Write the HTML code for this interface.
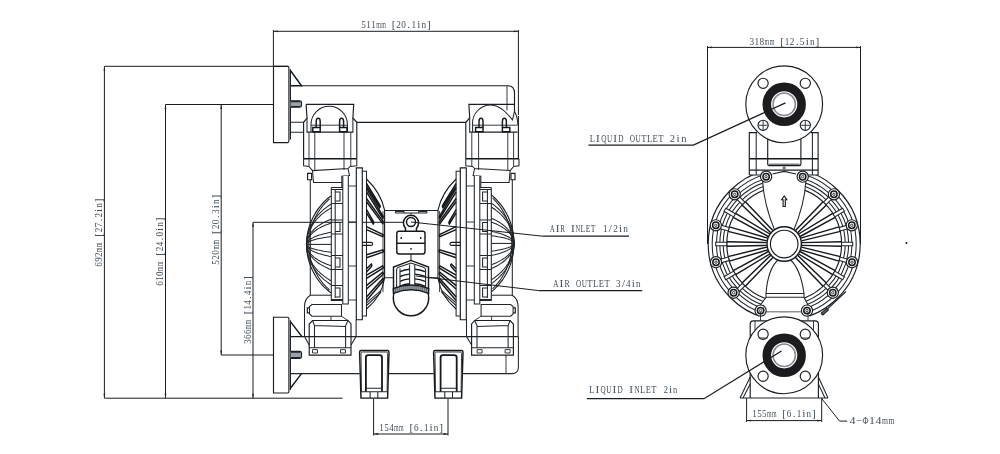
<!DOCTYPE html>
<html><head><meta charset="utf-8"><title>Pump dimensions</title>
<style>
html,body{margin:0;padding:0;background:#fff;}
body{width:1000px;height:454px;overflow:hidden;font-family:"Liberation Serif",serif;}
svg{display:block;will-change:transform}
.l{stroke:#1a1e22;stroke-width:1.15;fill:none}
.t{stroke:#2c333a;stroke-width:.95;fill:none}
.m{stroke:#20252a;stroke-width:1.05;fill:none}
.k{stroke:#15181b;stroke-width:1.45;fill:none}
.d{stroke:#1a1d20;stroke-width:1;fill:none}
.w{fill:#fff}
text{font-family:"Liberation Serif",serif;fill:#434f59;font-size:11.3px}
</style></head><body>
<svg width="1000" height="454" viewBox="0 0 1000 454">
<rect width="1000" height="454" fill="#fff"/>

<path class="d" d="M273.4 30L273.4 66"/>
<path class="d" d="M518.4 30L518.4 115"/>
<path class="d" d="M273.4 31.3L518.4 31.3"/>
<path d="M273.4 31.3L277.9 30.400000000000002L277.9 32.2Z" fill="#1e2328"/>
<path d="M518.4 31.3L513.9 30.400000000000002L513.9 32.2Z" fill="#1e2328"/>
<text y="28.1" font-size="11.3" xml:space="preserve"><tspan x="361.20" textLength="4.62" lengthAdjust="spacingAndGlyphs">5</tspan><tspan x="366.22" textLength="4.62" lengthAdjust="spacingAndGlyphs">1</tspan><tspan x="371.24" textLength="4.62" lengthAdjust="spacingAndGlyphs">1</tspan><tspan x="376.27" textLength="4.62" lengthAdjust="spacingAndGlyphs">m</tspan><tspan x="381.29" textLength="4.62" lengthAdjust="spacingAndGlyphs">m</tspan><tspan x="386.11"> </tspan><tspan x="391.76">[</tspan><tspan x="396.35" textLength="4.62" lengthAdjust="spacingAndGlyphs">2</tspan><tspan x="401.37" textLength="4.62" lengthAdjust="spacingAndGlyphs">0</tspan><tspan x="407.29">.</tspan><tspan x="411.42" textLength="4.62" lengthAdjust="spacingAndGlyphs">1</tspan><tspan x="417.18">i</tspan><tspan x="421.46" textLength="4.62" lengthAdjust="spacingAndGlyphs">n</tspan><tspan x="426.91">]</tspan></text>
<path class="d" d="M104.4 66.3L288 66.3"/>
<path class="d" d="M104.4 66.3L104.4 398.2"/>
<path class="d" d="M104.4 398.2L342.6 398.2"/>
<path d="M104.4 66.3L103.5 70.8L105.30000000000001 70.8Z" fill="#1e2328"/>
<path d="M104.4 398.2L103.5 393.7L105.30000000000001 393.7Z" fill="#1e2328"/>
<text y="267" font-size="11.3" transform="rotate(-90 102.2 267)" xml:space="preserve"><tspan x="102.40" textLength="4.53" lengthAdjust="spacingAndGlyphs">6</tspan><tspan x="107.33" textLength="4.53" lengthAdjust="spacingAndGlyphs">9</tspan><tspan x="112.25" textLength="4.53" lengthAdjust="spacingAndGlyphs">2</tspan><tspan x="117.18" textLength="4.53" lengthAdjust="spacingAndGlyphs">m</tspan><tspan x="122.11" textLength="4.53" lengthAdjust="spacingAndGlyphs">m</tspan><tspan x="126.84"> </tspan><tspan x="132.35">[</tspan><tspan x="136.90" textLength="4.53" lengthAdjust="spacingAndGlyphs">2</tspan><tspan x="141.83" textLength="4.53" lengthAdjust="spacingAndGlyphs">7</tspan><tspan x="147.61">.</tspan><tspan x="151.68" textLength="4.53" lengthAdjust="spacingAndGlyphs">2</tspan><tspan x="157.31">i</tspan><tspan x="161.54" textLength="4.53" lengthAdjust="spacingAndGlyphs">n</tspan><tspan x="166.85">]</tspan></text>
<path class="d" d="M165.5 104.5L273.4 104.5"/>
<path class="d" d="M165.5 104.5L165.5 398.2"/>
<path d="M165.5 104.5L164.6 109.0L166.4 109.0Z" fill="#1e2328"/>
<path d="M165.5 398.2L164.6 393.7L166.4 393.7Z" fill="#1e2328"/>
<text y="286" font-size="11.3" transform="rotate(-90 163.2 286)" xml:space="preserve"><tspan x="163.40" textLength="4.53" lengthAdjust="spacingAndGlyphs">6</tspan><tspan x="168.33" textLength="4.53" lengthAdjust="spacingAndGlyphs">1</tspan><tspan x="173.25" textLength="4.53" lengthAdjust="spacingAndGlyphs">0</tspan><tspan x="178.18" textLength="4.53" lengthAdjust="spacingAndGlyphs">m</tspan><tspan x="183.11" textLength="4.53" lengthAdjust="spacingAndGlyphs">m</tspan><tspan x="187.84"> </tspan><tspan x="193.35">[</tspan><tspan x="197.90" textLength="4.53" lengthAdjust="spacingAndGlyphs">2</tspan><tspan x="202.83" textLength="4.53" lengthAdjust="spacingAndGlyphs">4</tspan><tspan x="208.61">.</tspan><tspan x="212.68" textLength="4.53" lengthAdjust="spacingAndGlyphs">0</tspan><tspan x="218.31">i</tspan><tspan x="222.54" textLength="4.53" lengthAdjust="spacingAndGlyphs">n</tspan><tspan x="227.85">]</tspan></text>
<path class="d" d="M221.2 104.5L221.2 355"/>
<path class="d" d="M221.2 355L273.4 355"/>
<path d="M221.2 104.5L220.29999999999998 109.0L222.1 109.0Z" fill="#1e2328"/>
<path d="M221.2 355L220.29999999999998 350.5L222.1 350.5Z" fill="#1e2328"/>
<text y="265" font-size="11.3" transform="rotate(-90 218.8 265)" xml:space="preserve"><tspan x="219.00" textLength="4.67" lengthAdjust="spacingAndGlyphs">5</tspan><tspan x="224.07" textLength="4.67" lengthAdjust="spacingAndGlyphs">2</tspan><tspan x="229.15" textLength="4.67" lengthAdjust="spacingAndGlyphs">0</tspan><tspan x="234.22" textLength="4.67" lengthAdjust="spacingAndGlyphs">m</tspan><tspan x="239.29" textLength="4.67" lengthAdjust="spacingAndGlyphs">m</tspan><tspan x="244.16"> </tspan><tspan x="249.88">[</tspan><tspan x="254.50" textLength="4.67" lengthAdjust="spacingAndGlyphs">2</tspan><tspan x="259.57" textLength="4.67" lengthAdjust="spacingAndGlyphs">0</tspan><tspan x="265.57">.</tspan><tspan x="269.72" textLength="4.67" lengthAdjust="spacingAndGlyphs">3</tspan><tspan x="275.55">i</tspan><tspan x="279.86" textLength="4.67" lengthAdjust="spacingAndGlyphs">n</tspan><tspan x="285.38">]</tspan></text>
<path class="d" d="M253 222.3L404 222.3"/>
<path class="d" d="M253 222.3L253 398.2"/>
<path d="M253 222.3L252.1 226.8L253.9 226.8Z" fill="#1e2328"/>
<path d="M253 398.2L252.1 393.7L253.9 393.7Z" fill="#1e2328"/>
<text y="344" font-size="11.3" transform="rotate(-90 250.6 344)" xml:space="preserve"><tspan x="250.80" textLength="4.49" lengthAdjust="spacingAndGlyphs">3</tspan><tspan x="255.68" textLength="4.49" lengthAdjust="spacingAndGlyphs">6</tspan><tspan x="260.57" textLength="4.49" lengthAdjust="spacingAndGlyphs">6</tspan><tspan x="265.45" textLength="4.49" lengthAdjust="spacingAndGlyphs">m</tspan><tspan x="270.34" textLength="4.49" lengthAdjust="spacingAndGlyphs">m</tspan><tspan x="275.03"> </tspan><tspan x="280.48">[</tspan><tspan x="285.00" textLength="4.49" lengthAdjust="spacingAndGlyphs">1</tspan><tspan x="289.88" textLength="4.49" lengthAdjust="spacingAndGlyphs">4</tspan><tspan x="295.60">.</tspan><tspan x="299.65" textLength="4.49" lengthAdjust="spacingAndGlyphs">4</tspan><tspan x="305.22">i</tspan><tspan x="309.42" textLength="4.49" lengthAdjust="spacingAndGlyphs">n</tspan><tspan x="314.68">]</tspan></text>
<path class="d" d="M373.6 399L373.6 435.5"/>
<path class="d" d="M448 399L448 435.5"/>
<path class="d" d="M373.6 434L448 434"/>
<path d="M373.6 434L378.1 433.1L378.1 434.9Z" fill="#1e2328"/>
<path d="M448 434L443.5 433.1L443.5 434.9Z" fill="#1e2328"/>
<text y="430.5" font-size="11.3" xml:space="preserve"><tspan x="379.20" textLength="4.57" lengthAdjust="spacingAndGlyphs">1</tspan><tspan x="384.17" textLength="4.57" lengthAdjust="spacingAndGlyphs">5</tspan><tspan x="389.14" textLength="4.57" lengthAdjust="spacingAndGlyphs">4</tspan><tspan x="394.11" textLength="4.57" lengthAdjust="spacingAndGlyphs">m</tspan><tspan x="399.08" textLength="4.57" lengthAdjust="spacingAndGlyphs">m</tspan><tspan x="403.85"> </tspan><tspan x="409.42">[</tspan><tspan x="413.98" textLength="4.57" lengthAdjust="spacingAndGlyphs">6</tspan><tspan x="419.83">.</tspan><tspan x="423.92" textLength="4.57" lengthAdjust="spacingAndGlyphs">1</tspan><tspan x="429.61">i</tspan><tspan x="433.86" textLength="4.57" lengthAdjust="spacingAndGlyphs">n</tspan><tspan x="439.23">]</tspan></text>
<path class="l" d="M273.5 66.3H287.6Q288.9 66.3 288.9 67.8V141.1Q288.9 142.6 287.6 142.6H273.5Z" />
<path class="l" d="M290.4 69.3L290.4 139.6"/>
<path class="l" d="M273.5 317.2H287.6Q288.9 317.2 288.9 318.7V391.5Q288.9 393 287.6 393H273.5Z" />
<path class="l" d="M290.4 320.2L290.4 390"/>
<path class="k" d="M290.6 70.8L301.5 85.7H290.6" />
<path class="l" d="M290.6 100.7H299.5Q301.5 100.7 301.5 102.5V105.3Q301.5 107.2 299.5 107.2H290.6" style="fill:#9aa1a8"/>
<path class="m" d="M291 101.6H300M291 106.4H300" />
<path class="m" d="M290.6 122.3H303.6M290.6 132.2H303.6" />
<path class="k" d="M290.6 321.9L301.9 336.6H290.6" />
<path class="l" d="M290.6 351.3H299.5Q301.5 351.3 301.5 353V356.5Q301.5 358.3 299.5 358.3H290.6" style="fill:#9aa1a8"/>
<path class="m" d="M291 352.2H300M291 357.4H300" />
<path class="m" d="M290.6 373.6H359.6" />
<path class="k" d="M301.5 373.6L290.6 388" />
<path class="l" d="M301.5 85.7H508Q514.5 85.7 514.5 93V111.2" />
<path class="t" d="M507 85.7L507 110.5"/>
<path class="l" d="M356.8 122.4H465.8" />
<path class="m" d="M301.9 336.6H518.4" />
<path class="m" d="M389 373.6H433.6M462.8 373.6H512Q518.4 373.6 518.4 367V336.6" />
<path class="t" d="M506 355.1L506 373.6"/>
<g>
<path class="l" d="M306.1 104.4H353.7L352.9 118L356.8 122.3V158.7M306.1 104.4L307 118L303.6 122.3V158.7" />
<path class="m" d="M307 118V132.1H352.9V118" />
<path class="m" d="M311 132V124.4A18.2 18.2 0 0 1 347.4 124.4V132" />
<path class="t" d="M311 125.2L347.4 125.2"/>
<path class="k" d="M316.2 127.5V121.5Q316.2 118.3 318.2 118.3Q320.2 118.3 320.2 121.5V127.5" />
<path class="k" d="M312.8 127.5H320.2V131.8H312.8Z" />
<path class="k" d="M339.6 127.5V121.5Q339.6 118.3 341.6 118.3Q343.6 118.3 343.6 121.5V127.5" />
<path class="k" d="M339.6 127.5H347.0V131.8H339.6Z" />
<path class="t" d="M309 132.1L309 158.7"/>
<path class="t" d="M314.8 132.1L314.8 158.7"/>
<path class="t" d="M344 132.1L344 158.7"/>
<path class="t" d="M350.8 132.1L350.8 158.7"/>
<path class="k" d="M303.6 158.7H356.8" />
<path class="m" d="M303.6 158.7V165.7L309 166.5M356.8 158.7V165.7L350 166.5" />
<path class="t" d="M309 158.7L309 166.5"/>
<path class="t" d="M314.8 158.7L314.8 170"/>
<path class="t" d="M344 158.7L344 170"/>
<path class="t" d="M350.8 158.7L350.8 166.5"/>
<path class="m" d="M309 166.5L312.5 170.6L348 168.5L350.5 166M312.5 170.6L313.5 182.5H341.8M348 168.5L349.5 175.5L341.8 176.2V187" />
<path class="l" d="M307.6 173.4H311.6V179.7H307.6Z" />
<path class="m" d="M310.3 179.7V295.2Q304.5 299 304.5 306.4V336.6" />
<path class="m" d="M310.3 295.2H331.3" />
<path class="l" d="M306.6 244.4L306.6 246.7L306.8 249.1L307.0 251.4L307.3 253.8L307.7 256.1L308.2 258.4L308.8 260.6L309.5 262.9L310.3 265.1L311.1 267.3L312.1 269.4L313.1 271.6L314.2 273.6L315.4 275.7L316.6 277.7L317.9 279.6L319.4 281.5L320.8 283.3L322.4 285.1L324.0 286.8L325.7 288.4L327.4 290.0L329.2 291.5L331.1 292.9" />
<path class="m" d="M308.8 244.4L308.8 246.7L309.0 249.1L309.2 251.4L309.5 253.8L309.9 256.1L310.4 258.4L311.0 260.6L311.7 262.9L312.5 265.1L313.3 267.3L314.3 269.4L315.3 271.6L316.4 273.6L317.6 275.7L318.8 277.7L320.1 279.6L321.6 281.5L323.0 283.3L324.6 285.1L326.2 286.8L327.9 288.4L329.6 290.0" />
<path class="l" d="M306.6 244.4L306.6 242.1L306.8 239.7L307.0 237.4L307.3 235.0L307.7 232.7L308.2 230.4L308.8 228.2L309.5 225.9L310.3 223.7L311.1 221.5L312.1 219.4L313.1 217.2L314.2 215.2L315.4 213.1L316.6 211.1L317.9 209.2L319.4 207.3L320.8 205.5L322.4 203.7L324.0 202.0L325.7 200.4L327.4 198.8L329.2 197.3L331.1 195.9" />
<path class="m" d="M308.8 244.4L308.8 242.1L309.0 239.7L309.2 237.4L309.5 235.0L309.9 232.7L310.4 230.4L311.0 228.2L311.7 225.9L312.5 223.7L313.3 221.5L314.3 219.4L315.3 217.2L316.4 215.2L317.6 213.1L318.8 211.1L320.1 209.2L321.6 207.3L323.0 205.5L324.6 203.7L326.2 202.0L327.9 200.4L329.6 198.8" />
<path class="m" d="M306.6 244.4L306.6 246.3L306.8 248.3L307.0 250.2L307.3 252.2L307.7 254.1L308.2 256.0L308.8 257.9L309.5 259.7L310.3 261.6L311.1 263.4L312.1 265.2L313.1 266.9L314.2 268.7L315.4 270.4L316.6 272.0L317.9 273.6L319.4 275.2L320.8 276.7L322.4 278.1L324.0 279.6L325.7 280.9L327.4 282.2L329.2 283.5L331.1 284.7" />
<path class="m" d="M306.6 244.4L306.6 242.5L306.8 240.5L307.0 238.6L307.3 236.6L307.7 234.7L308.2 232.8L308.8 230.9L309.5 229.1L310.3 227.2L311.1 225.4L312.1 223.6L313.1 221.9L314.2 220.1L315.4 218.4L316.6 216.8L317.9 215.2L319.4 213.6L320.8 212.1L322.4 210.7L324.0 209.2L325.7 207.9L327.4 206.6L329.2 205.3L331.1 204.1" />
<path class="m" d="M306.6 244.4L306.6 246.2L306.8 247.9L307.0 249.7L307.3 251.4L307.7 253.2L308.2 254.9L308.8 256.6L309.5 258.3L310.3 259.9L311.1 261.6L312.1 263.2L313.1 264.8L314.2 266.3L315.4 267.9L316.6 269.3L317.9 270.8L319.4 272.2L320.8 273.6L322.4 274.9L324.0 276.2L325.7 277.4L327.4 278.6L329.2 279.7L331.1 280.8" />
<path class="m" d="M306.6 244.4L306.6 242.6L306.8 240.9L307.0 239.1L307.3 237.4L307.7 235.6L308.2 233.9L308.8 232.2L309.5 230.5L310.3 228.9L311.1 227.2L312.1 225.6L313.1 224.0L314.2 222.5L315.4 220.9L316.6 219.5L317.9 218.0L319.4 216.6L320.8 215.2L322.4 213.9L324.0 212.6L325.7 211.4L327.4 210.2L329.2 209.1L331.1 208.0" />
<path class="m" d="M306.6 244.4L306.6 245.6L306.8 246.8L307.0 248.1L307.3 249.3L307.7 250.5L308.2 251.7L308.8 252.8L309.5 254.0L310.3 255.2L311.1 256.3L312.1 257.4L313.1 258.5L314.2 259.6L315.4 260.7L316.6 261.7L317.9 262.7L319.4 263.7L320.8 264.6L322.4 265.5L324.0 266.4L325.7 267.3L327.4 268.1L329.2 268.9L331.1 269.6" />
<path class="m" d="M306.6 244.4L306.6 243.2L306.8 242.0L307.0 240.7L307.3 239.5L307.7 238.3L308.2 237.1L308.8 236.0L309.5 234.8L310.3 233.6L311.1 232.5L312.1 231.4L313.1 230.3L314.2 229.2L315.4 228.1L316.6 227.1L317.9 226.1L319.4 225.1L320.8 224.2L322.4 223.3L324.0 222.4L325.7 221.5L327.4 220.7L329.2 219.9L331.1 219.2" />
<path class="m" d="M306.6 244.4L306.6 245.4L306.8 246.5L307.0 247.5L307.3 248.5L307.7 249.5L308.2 250.5L308.8 251.5L309.5 252.5L310.3 253.5L311.1 254.5L312.1 255.4L313.1 256.4L314.2 257.3L315.4 258.2L316.6 259.0L317.9 259.9L319.4 260.7L320.8 261.5L322.4 262.3L324.0 263.0L325.7 263.8L327.4 264.4L329.2 265.1L331.1 265.7" />
<path class="m" d="M306.6 244.4L306.6 243.4L306.8 242.3L307.0 241.3L307.3 240.3L307.7 239.3L308.2 238.3L308.8 237.3L309.5 236.3L310.3 235.3L311.1 234.3L312.1 233.4L313.1 232.4L314.2 231.5L315.4 230.6L316.6 229.8L317.9 228.9L319.4 228.1L320.8 227.3L322.4 226.5L324.0 225.8L325.7 225.0L327.4 224.4L329.2 223.7L331.1 223.1" />
<path class="m" d="M306.6 244.4L306.6 245.0L306.8 245.6L307.0 246.2L307.3 246.7L307.7 247.3L308.2 247.9L308.8 248.5L309.5 249.0L310.3 249.6L311.1 250.1L312.1 250.7L313.1 251.2L314.2 251.7L315.4 252.2L316.6 252.7L317.9 253.2L319.4 253.7L320.8 254.1L322.4 254.6L324.0 255.0L325.7 255.4L327.4 255.8L329.2 256.2L331.1 256.5" />
<path class="m" d="M306.6 244.4L306.6 243.8L306.8 243.2L307.0 242.6L307.3 242.1L307.7 241.5L308.2 240.9L308.8 240.3L309.5 239.8L310.3 239.2L311.1 238.7L312.1 238.1L313.1 237.6L314.2 237.1L315.4 236.6L316.6 236.1L317.9 235.6L319.4 235.1L320.8 234.7L322.4 234.2L324.0 233.8L325.7 233.4L327.4 233.0L329.2 232.6L331.1 232.3" />
<path class="m" d="M306.6 244.4L306.6 244.8L306.8 245.2L307.0 245.5L307.3 245.9L307.7 246.3L308.2 246.6L308.8 247.0L309.5 247.4L310.3 247.7L311.1 248.1L312.1 248.4L313.1 248.7L314.2 249.1L315.4 249.4L316.6 249.7L317.9 250.0L319.4 250.3L320.8 250.6L322.4 250.9L324.0 251.2L325.7 251.4L327.4 251.7L329.2 251.9L331.1 252.2" />
<path class="m" d="M306.6 244.4L306.6 244.0L306.8 243.6L307.0 243.3L307.3 242.9L307.7 242.5L308.2 242.2L308.8 241.8L309.5 241.4L310.3 241.1L311.1 240.7L312.1 240.4L313.1 240.1L314.2 239.7L315.4 239.4L316.6 239.1L317.9 238.8L319.4 238.5L320.8 238.2L322.4 237.9L324.0 237.6L325.7 237.4L327.4 237.1L329.2 236.9L331.1 236.6" />
<path class="m" d="M306.6 244.4L306.6 244.4L306.8 244.4L307.0 244.4L307.3 244.4L307.7 244.4L308.2 244.4L308.8 244.4L309.5 244.4L310.3 244.4L311.1 244.4L312.1 244.4L313.1 244.4L314.2 244.4L315.4 244.4L316.6 244.4L317.9 244.4L319.4 244.4L320.8 244.4L322.4 244.4L324.0 244.4L325.7 244.4L327.4 244.4L329.2 244.4L331.1 244.4" />
<path class="m" d="M312 304.5H341.5V316.2H312L309.5 314V306.5Z" />
<path class="l" d="M309.5 307.8H307.3V312.8H309.5" />
<path class="l" d="M309.2 355.1V324L312.5 320.5H348L351 324V355.1Z" />
<path class="m" d="M312.5 320.5L314.5 325.5V347.8M348 320.5L345.6 325.5V347.8M314.5 325.5L345.6 326.5M309.2 347.8H351" />
<path class="t" d="M312.5 349.6H317.5V353H312.5ZM340.5 349.6H345.5V353H340.5Z" />
<path class="m" d="M304.5 336.6L309.2 345" />
<path class="m" d="M356.1 336.6L351 345M356.1 319.7V336.6" />
<path class="t" d="M331 316.2V320.5M341.5 316.2L348 320.5" />
<path class="l" d="M356.3 167.8H362.3V319.7H356.3Z" style="fill:#fff"/>
<path class="m" d="M362.3 171.3H366.5V316H362.3" />
<path class="m" d="M342.8 176.2V304H348.3V175.5" style="fill:#fff"/>
<path class="m" d="M331.3 187.4H342.8M331.3 187.4V300.5H342.8M335.2 190V298" />
<path class="t" d="M348.3 186H356.3M348.3 300H356.3M348.3 222H356.3M348.3 266H356.3" />
<path class="m" d="M335.2 192H340V201H335.2M331.3 189.5H342.8M331.3 203.5H342.8" />
<path class="m" d="M335.2 222.5H340V231.5H335.2M331.3 220.0H342.8M331.3 234.0H342.8" />
<path class="m" d="M335.2 258H340V267H335.2M331.3 255.5H342.8M331.3 269.5H342.8" />
<path class="m" d="M335.2 288H340V297H335.2M331.3 285.5H342.8M331.3 299.5H342.8" />
<path class="l" d="M366.5 179Q381 193 384.6 210V278Q382 296 366.5 309" />
<path class="t" d="M383 211V292" />
<path class="k" d="M366.5 183.5L380 205.5Q380.8 206.62 379.7 207.74L366.5 186.7" />
<path class="k" d="M366.5 188.5L383 216Q383.8 217.19 382.7 218.38L366.5 191.9" />
<path class="k" d="M366.5 198.5L383 221.4Q383.8 222.52 382.7 223.64000000000001L366.5 201.7" />
<path class="k" d="M366.5 209.5L373.5 221.6Q374.3 222.79 373.2 223.98L366.5 212.9" />
<path class="k" d="M366.5 226.7L383 234.6Q383.8 235.65 382.7 236.7L366.5 229.7" />
<path class="k" d="M366.5 257.8L383.3 252Q384.1 250.95 383.0 249.9L366.5 254.8" />
<path class="k" d="M366.5 272L371.6 266.2Q372.40000000000003 265.08 371.3 263.96L366.5 268.8" />
<path class="k" d="M366.5 278.4L383 268.2Q383.8 267.08 382.7 265.96L366.5 275.2" />
<path class="k" d="M366.5 289L383 274.6Q383.8 273.41 382.7 272.22L366.5 285.6" />
<path class="k" d="M366.5 300.5L383.3 280.8Q384.1 279.61 383.0 278.42L366.5 297.1" />
<path class="m" d="M366.5 305.5L380.5 293Q381.3 292.09 380.2 291.18L366.5 302.9" />
<path class="l" d="M362.3 242.4H371Q372.6 242.4 372.6 243.9Q372.6 245.4 371 245.4H362.3" />
<path class="k" d="M359.6 352.2Q359.6 350.5 361.2 350.5H387.4Q389 350.5 389 352.2L387.6 398.1H361Z" />
<path class="t" d="M361.5 391.8L361 353.5Q361 352 362.5 352H386.1Q387.6 352 387.6 353.5L387.1 391.8" />
<path class="k" d="M365.9 391.8V357.5Q365.9 355.1 368.2 355.1H379.7Q382 355.1 382 357.5V391.8" style="stroke-width:1.8"/>
<path class="m" d="M361 391.8H387.6M366.5 388.3H381.4M370.1 391.8V398.1M377.8 391.8V398.1" />
</g>
<g transform="translate(822.6 0) scale(-1 1)">
<path class="l" d="M308.1 104.4H353.7L352.9 118L356.8 122.3V158.7M304.2 116V158.7" />
<path class="m" d="M305 132.1H352.9V118" />
<path class="m" d="M350 132V124.4A18.2 18.2 0 0 0 331.8 105C322 105.5 316 113 310.1 119.8L308.1 111.2M308.1 111.2Q305.3 116 304.6 125" />
<path class="t" d="M305 125.2L350 125.2"/>
<path class="k" d="M316.2 127.5V121.5Q316.2 118.3 318.2 118.3Q320.2 118.3 320.2 121.5V127.5" />
<path class="k" d="M312.8 127.5H320.2V131.8H312.8Z" />
<path class="k" d="M339.6 127.5V121.5Q339.6 118.3 341.6 118.3Q343.6 118.3 343.6 121.5V127.5" />
<path class="k" d="M339.6 127.5H347.0V131.8H339.6Z" />
<path class="t" d="M309 132.1L309 158.7"/>
<path class="t" d="M314.8 132.1L314.8 158.7"/>
<path class="t" d="M344 132.1L344 158.7"/>
<path class="t" d="M350.8 132.1L350.8 158.7"/>
<path class="k" d="M303.6 158.7H356.8" />
<path class="m" d="M303.6 158.7V165.7L309 166.5M356.8 158.7V165.7L350 166.5" />
<path class="t" d="M309 158.7L309 166.5"/>
<path class="t" d="M314.8 158.7L314.8 170"/>
<path class="t" d="M344 158.7L344 170"/>
<path class="t" d="M350.8 158.7L350.8 166.5"/>
<path class="m" d="M309 166.5L312.5 170.6L348 168.5L350.5 166M312.5 170.6L313.5 182.5H341.8M348 168.5L349.5 175.5L341.8 176.2V187" />
<path class="l" d="M307.6 173.4H311.6V179.7H307.6Z" />
<path class="m" d="M310.3 179.7V295.2Q304.5 299 304.5 306.4V336.6" />
<path class="m" d="M310.3 295.2H331.3" />
<path class="l" d="M308.6 243.4L308.6 245.7L308.8 248.0L309.0 250.3L309.3 252.6L309.6 254.8L310.1 257.1L310.6 259.3L311.3 261.6L312.0 263.8L312.7 265.9L313.6 268.1L314.5 270.2L315.6 272.2L316.6 274.3L317.8 276.2L319.0 278.2L320.3 280.1L321.7 281.9L323.1 283.7L324.6 285.5L326.2 287.2L327.8 288.8L329.5 290.4L331.3 291.9" />
<path class="m" d="M310.8 243.4L310.8 245.7L311.0 248.0L311.2 250.3L311.5 252.6L311.8 254.8L312.3 257.1L312.8 259.3L313.5 261.6L314.2 263.8L314.9 265.9L315.8 268.1L316.7 270.2L317.8 272.2L318.8 274.3L320.0 276.2L321.2 278.2L322.5 280.1L323.9 281.9L325.3 283.7L326.8 285.5L328.4 287.2L330.0 288.8" />
<path class="l" d="M308.6 243.4L308.6 241.1L308.8 238.8L309.0 236.5L309.3 234.2L309.6 232.0L310.1 229.7L310.6 227.5L311.3 225.2L312.0 223.0L312.7 220.9L313.6 218.7L314.5 216.6L315.6 214.6L316.6 212.5L317.8 210.6L319.0 208.6L320.3 206.7L321.7 204.9L323.1 203.1L324.6 201.3L326.2 199.6L327.8 198.0L329.5 196.4L331.3 194.9" />
<path class="m" d="M310.8 243.4L310.8 241.1L311.0 238.8L311.2 236.5L311.5 234.2L311.8 232.0L312.3 229.7L312.8 227.5L313.5 225.2L314.2 223.0L314.9 220.9L315.8 218.7L316.7 216.6L317.8 214.6L318.8 212.5L320.0 210.6L321.2 208.6L322.5 206.7L323.9 204.9L325.3 203.1L326.8 201.3L328.4 199.6L330.0 198.0" />
<path class="m" d="M308.6 243.4L308.6 245.3L308.8 247.2L309.0 249.1L309.3 251.0L309.6 252.9L310.1 254.8L310.6 256.6L311.3 258.5L312.0 260.3L312.7 262.1L313.6 263.9L314.5 265.6L315.6 267.3L316.6 269.0L317.8 270.7L319.0 272.3L320.3 273.9L321.7 275.4L323.1 276.9L324.6 278.3L326.2 279.7L327.8 281.1L329.5 282.4L331.3 283.6" />
<path class="m" d="M308.6 243.4L308.6 241.5L308.8 239.6L309.0 237.7L309.3 235.8L309.6 233.9L310.1 232.0L310.6 230.2L311.3 228.3L312.0 226.5L312.7 224.7L313.6 222.9L314.5 221.2L315.6 219.5L316.6 217.8L317.8 216.1L319.0 214.5L320.3 212.9L321.7 211.4L323.1 209.9L324.6 208.5L326.2 207.1L327.8 205.7L329.5 204.4L331.3 203.2" />
<path class="m" d="M308.6 243.4L308.6 245.1L308.8 246.9L309.0 248.6L309.3 250.3L309.6 252.0L310.1 253.7L310.6 255.4L311.3 257.0L312.0 258.7L312.7 260.3L313.6 261.9L314.5 263.5L315.6 265.0L316.6 266.5L317.8 268.0L319.0 269.5L320.3 270.9L321.7 272.3L323.1 273.7L324.6 275.0L326.2 276.2L327.8 277.5L329.5 278.6L331.3 279.8" />
<path class="m" d="M308.6 243.4L308.6 241.7L308.8 239.9L309.0 238.2L309.3 236.5L309.6 234.8L310.1 233.1L310.6 231.4L311.3 229.8L312.0 228.1L312.7 226.5L313.6 224.9L314.5 223.3L315.6 221.8L316.6 220.3L317.8 218.8L319.0 217.3L320.3 215.9L321.7 214.5L323.1 213.1L324.6 211.8L326.2 210.6L327.8 209.3L329.5 208.2L331.3 207.0" />
<path class="m" d="M308.6 243.4L308.6 244.6L308.8 245.8L309.0 247.0L309.3 248.2L309.6 249.4L310.1 250.5L310.6 251.7L311.3 252.8L312.0 254.0L312.7 255.1L313.6 256.2L314.5 257.3L315.6 258.4L316.6 259.4L317.8 260.5L319.0 261.5L320.3 262.5L321.7 263.4L323.1 264.4L324.6 265.3L326.2 266.2L327.8 267.0L329.5 267.8L331.3 268.6" />
<path class="m" d="M308.6 243.4L308.6 242.2L308.8 241.0L309.0 239.8L309.3 238.6L309.6 237.4L310.1 236.3L310.6 235.1L311.3 234.0L312.0 232.8L312.7 231.7L313.6 230.6L314.5 229.5L315.6 228.4L316.6 227.4L317.8 226.3L319.0 225.3L320.3 224.3L321.7 223.4L323.1 222.4L324.6 221.5L326.2 220.6L327.8 219.8L329.5 219.0L331.3 218.2" />
<path class="m" d="M308.6 243.4L308.6 244.4L308.8 245.4L309.0 246.4L309.3 247.4L309.6 248.4L310.1 249.4L310.6 250.4L311.3 251.4L312.0 252.4L312.7 253.3L313.6 254.2L314.5 255.2L315.6 256.1L316.6 257.0L317.8 257.9L319.0 258.7L320.3 259.5L321.7 260.4L323.1 261.1L324.6 261.9L326.2 262.7L327.8 263.4L329.5 264.1L331.3 264.7" />
<path class="m" d="M308.6 243.4L308.6 242.4L308.8 241.4L309.0 240.4L309.3 239.4L309.6 238.4L310.1 237.4L310.6 236.4L311.3 235.4L312.0 234.4L312.7 233.5L313.6 232.6L314.5 231.6L315.6 230.7L316.6 229.8L317.8 228.9L319.0 228.1L320.3 227.3L321.7 226.4L323.1 225.7L324.6 224.9L326.2 224.1L327.8 223.4L329.5 222.7L331.3 222.1" />
<path class="m" d="M308.6 243.4L308.6 244.0L308.8 244.6L309.0 245.1L309.3 245.7L309.6 246.3L310.1 246.8L310.6 247.4L311.3 247.9L312.0 248.5L312.7 249.0L313.6 249.6L314.5 250.1L315.6 250.6L316.6 251.1L317.8 251.6L319.0 252.1L320.3 252.6L321.7 253.0L323.1 253.5L324.6 253.9L326.2 254.3L327.8 254.8L329.5 255.1L331.3 255.5" />
<path class="m" d="M308.6 243.4L308.6 242.8L308.8 242.2L309.0 241.7L309.3 241.1L309.6 240.5L310.1 240.0L310.6 239.4L311.3 238.9L312.0 238.3L312.7 237.8L313.6 237.2L314.5 236.7L315.6 236.2L316.6 235.7L317.8 235.2L319.0 234.7L320.3 234.2L321.7 233.8L323.1 233.3L324.6 232.9L326.2 232.5L327.8 232.0L329.5 231.7L331.3 231.3" />
<path class="m" d="M308.6 243.4L308.6 243.8L308.8 244.1L309.0 244.5L309.3 244.9L309.6 245.2L310.1 245.6L310.6 246.0L311.3 246.3L312.0 246.7L312.7 247.0L313.6 247.3L314.5 247.7L315.6 248.0L316.6 248.3L317.8 248.7L319.0 249.0L320.3 249.3L321.7 249.6L323.1 249.9L324.6 250.1L326.2 250.4L327.8 250.7L329.5 250.9L331.3 251.2" />
<path class="m" d="M308.6 243.4L308.6 243.0L308.8 242.7L309.0 242.3L309.3 241.9L309.6 241.6L310.1 241.2L310.6 240.8L311.3 240.5L312.0 240.1L312.7 239.8L313.6 239.5L314.5 239.1L315.6 238.8L316.6 238.5L317.8 238.1L319.0 237.8L320.3 237.5L321.7 237.2L323.1 236.9L324.6 236.7L326.2 236.4L327.8 236.1L329.5 235.9L331.3 235.6" />
<path class="m" d="M308.6 243.4L308.6 243.4L308.8 243.4L309.0 243.4L309.3 243.4L309.6 243.4L310.1 243.4L310.6 243.4L311.3 243.4L312.0 243.4L312.7 243.4L313.6 243.4L314.5 243.4L315.6 243.4L316.6 243.4L317.8 243.4L319.0 243.4L320.3 243.4L321.7 243.4L323.1 243.4L324.6 243.4L326.2 243.4L327.8 243.4L329.5 243.4L331.3 243.4" />
<path class="m" d="M312 304.5H341.5V316.2H312L309.5 314V306.5Z" />
<path class="l" d="M309.5 307.8H307.3V312.8H309.5" />
<path class="l" d="M309.2 355.1V324L312.5 320.5H348L351 324V355.1Z" />
<path class="m" d="M312.5 320.5L314.5 325.5V347.8M348 320.5L345.6 325.5V347.8M314.5 325.5L345.6 326.5M309.2 347.8H351" />
<path class="t" d="M312.5 349.6H317.5V353H312.5ZM340.5 349.6H345.5V353H340.5Z" />
<path class="m" d="M356.1 336.6L351 345M356.1 319.7V336.6" />
<path class="t" d="M331 316.2V320.5M341.5 316.2L348 320.5" />
<path class="l" d="M356.3 167.8H362.3V319.7H356.3Z" style="fill:#fff"/>
<path class="m" d="M362.3 171.3H366.5V316H362.3" />
<path class="m" d="M342.8 176.2V304H348.3V175.5" style="fill:#fff"/>
<path class="m" d="M331.3 187.4H342.8M331.3 187.4V300.5H342.8M335.2 190V298" />
<path class="t" d="M348.3 186H356.3M348.3 300H356.3M348.3 222H356.3M348.3 266H356.3" />
<path class="m" d="M335.2 192H340V201H335.2M331.3 189.5H342.8M331.3 203.5H342.8" />
<path class="m" d="M335.2 222.5H340V231.5H335.2M331.3 220.0H342.8M331.3 234.0H342.8" />
<path class="m" d="M335.2 258H340V267H335.2M331.3 255.5H342.8M331.3 269.5H342.8" />
<path class="m" d="M335.2 288H340V297H335.2M331.3 285.5H342.8M331.3 299.5H342.8" />
<path class="l" d="M366.5 179Q381 193 384.6 210V278Q382 296 366.5 309" />
<path class="t" d="M383 211V292" />
<path class="k" d="M366.5 183.5L380 205.5Q380.8 206.62 379.7 207.74L366.5 186.7" />
<path class="k" d="M366.5 188.5L383 216Q383.8 217.19 382.7 218.38L366.5 191.9" />
<path class="k" d="M366.5 198.5L383 221.4Q383.8 222.52 382.7 223.64000000000001L366.5 201.7" />
<path class="k" d="M366.5 209.5L373.5 221.6Q374.3 222.79 373.2 223.98L366.5 212.9" />
<path class="k" d="M366.5 226.7L383 234.6Q383.8 235.65 382.7 236.7L366.5 229.7" />
<path class="k" d="M366.5 257.8L383.3 252Q384.1 250.95 383.0 249.9L366.5 254.8" />
<path class="k" d="M366.5 272L371.6 266.2Q372.40000000000003 265.08 371.3 263.96L366.5 268.8" />
<path class="k" d="M366.5 278.4L383 268.2Q383.8 267.08 382.7 265.96L366.5 275.2" />
<path class="k" d="M366.5 289L383 274.6Q383.8 273.41 382.7 272.22L366.5 285.6" />
<path class="k" d="M366.5 300.5L383.3 280.8Q384.1 279.61 383.0 278.42L366.5 297.1" />
<path class="m" d="M366.5 305.5L380.5 293Q381.3 292.09 380.2 291.18L366.5 302.9" />
<path class="l" d="M362.3 242.4H371Q372.6 242.4 372.6 243.9Q372.6 245.4 371 245.4H362.3" />
<path class="k" d="M359.6 352.2Q359.6 350.5 361.2 350.5H387.4Q389 350.5 389 352.2L387.6 398.1H361Z" />
<path class="t" d="M361.5 391.8L361 353.5Q361 352 362.5 352H386.1Q387.6 352 387.6 353.5L387.1 391.8" />
<path class="k" d="M365.9 391.8V357.5Q365.9 355.1 368.2 355.1H379.7Q382 355.1 382 357.5V391.8" style="stroke-width:1.8"/>
<path class="m" d="M361 391.8H387.6M366.5 388.3H381.4M370.1 391.8V398.1M377.8 391.8V398.1" />
</g>
<path class="m" d="M384.4 210.4H438.2M384.4 277.7H393.3M428.7 277.7H438.2" />
<path class="m" d="M396 211.4H403.5Q404.5 212.2 403.5 213H396Q394.8 212.2 396 211.4ZM419 211.4H426.5Q427.6 212.2 426.5 213H419Q418 212.2 419 211.4ZM403.5 213H419M411 213V214.5" />
<path class="k" d="M405.5 231.3V228.2A7.6 7.6 0 1 1 416.5 228.2V231.3" style="stroke-width:1.5"/>
<circle cx="411" cy="222" r="4.5" class="k" style="stroke-width:1.5"/>
<rect x="396.8" y="231.3" width="28.2" height="22.7" rx="2.2" class="k"/>
<path class="k" d="M396.8 243.3L425 243.3"/>
<circle cx="401.2" cy="238" r="0.9" fill="#15181b"/>
<circle cx="420.7" cy="238" r="0.9" fill="#15181b"/>
<circle cx="411" cy="248.8" r="0.9" fill="#15181b"/>
<path class="m" d="M411 254L411 260.4"/>
<circle cx="411" cy="298.1" r="17.7" class="k" style="fill:#fff"/>
<path class="k" d="M393.5 291V267L411 260.4L428.5 267V291" style="fill:#fff"/>
<path class="m" d="M396.6 289V270Q396.6 268 398.5 267.3L411 263L423.5 267.3Q425.6 268 425.6 270V289" />
<path class="k" d="M400 271.7Q404.8 269.5 409.6 269.3" />
<path class="k" d="M414.8 269.3Q420 269.5 425 271.7" />
<path class="k" d="M400 276.5Q404.8 274.3 409.6 274.1" />
<path class="k" d="M414.8 274.1Q420 274.3 425 276.5" />
<path class="k" d="M400 281.3Q404.8 279.1 409.6 278.90000000000003" />
<path class="k" d="M414.8 278.90000000000003Q420 279.1 425 281.3" />
<path class="k" d="M400 286.09999999999997Q404.8 283.9 409.6 283.7" />
<path class="k" d="M414.8 283.7Q420 283.9 425 286.09999999999997" />
<path class="m" d="M400 268.5V288M409.6 264.5V287M414.8 264.5V287" />
<path class="k" d="M393.4 288.5Q411 281.5 428.6 288.5V293.3Q411 286.3 393.4 293.3Z" style="fill:#a4abb1"/>
<path class="t" d="M395.4 288.4V292.2" style="stroke-width:.6"/>
<path class="t" d="M397.3 287.7V291.5" style="stroke-width:.6"/>
<path class="t" d="M399.3 287.2V291.0" style="stroke-width:.6"/>
<path class="t" d="M401.2 286.7V290.5" style="stroke-width:.6"/>
<path class="t" d="M403.2 286.3V290.1" style="stroke-width:.6"/>
<path class="t" d="M405.1 286.0V289.8" style="stroke-width:.6"/>
<path class="t" d="M407.1 285.8V289.6" style="stroke-width:.6"/>
<path class="t" d="M409.0 285.6V289.4" style="stroke-width:.6"/>
<path class="t" d="M411.0 285.6V289.4" style="stroke-width:.6"/>
<path class="t" d="M413.0 285.6V289.4" style="stroke-width:.6"/>
<path class="t" d="M414.9 285.8V289.6" style="stroke-width:.6"/>
<path class="t" d="M416.9 286.0V289.8" style="stroke-width:.6"/>
<path class="t" d="M418.8 286.3V290.1" style="stroke-width:.6"/>
<path class="t" d="M420.8 286.7V290.5" style="stroke-width:.6"/>
<path class="t" d="M422.7 287.2V291.0" style="stroke-width:.6"/>
<path class="t" d="M424.7 287.7V291.5" style="stroke-width:.6"/>
<path class="t" d="M426.6 288.4V292.2" style="stroke-width:.6"/>
<path class="d" d="M411 222L542.6 236.2" />
<path class="d" d="M542.6 236.1H629" style="stroke-width:1.3"/>
<text y="232.2" font-size="11.2" xml:space="preserve"><tspan x="550.10" textLength="4.67" lengthAdjust="spacingAndGlyphs">A</tspan><tspan x="555.65">I</tspan><tspan x="560.26" textLength="4.67" lengthAdjust="spacingAndGlyphs">R</tspan><tspan x="565.13"> </tspan><tspan x="570.89">I</tspan><tspan x="575.49" textLength="4.67" lengthAdjust="spacingAndGlyphs">N</tspan><tspan x="580.57" textLength="4.67" lengthAdjust="spacingAndGlyphs">L</tspan><tspan x="585.65" textLength="4.67" lengthAdjust="spacingAndGlyphs">E</tspan><tspan x="590.73" textLength="4.67" lengthAdjust="spacingAndGlyphs">T</tspan></text>
<text y="232.2" font-size="11.2" xml:space="preserve"><tspan x="603.10" textLength="4.62" lengthAdjust="spacingAndGlyphs">1</tspan><tspan x="608.87">/</tspan><tspan x="613.14" textLength="4.62" lengthAdjust="spacingAndGlyphs">2</tspan><tspan x="618.91">i</tspan><tspan x="623.18" textLength="4.62" lengthAdjust="spacingAndGlyphs">n</tspan></text>
<path class="d" d="M416 276L538.7 290.6" />
<path class="d" d="M538.7 290.6H642.3" style="stroke-width:1.3"/>
<text y="287.1" font-size="12" xml:space="preserve"><tspan x="553.23" textLength="5.23" lengthAdjust="spacingAndGlyphs">A</tspan><tspan x="559.54">I</tspan><tspan x="564.61" textLength="5.23" lengthAdjust="spacingAndGlyphs">R</tspan><tspan x="570.07"> </tspan><tspan x="575.99" textLength="5.23" lengthAdjust="spacingAndGlyphs">O</tspan><tspan x="581.68" textLength="5.23" lengthAdjust="spacingAndGlyphs">U</tspan><tspan x="587.37" textLength="5.23" lengthAdjust="spacingAndGlyphs">T</tspan><tspan x="593.06" textLength="5.23" lengthAdjust="spacingAndGlyphs">L</tspan><tspan x="598.75" textLength="5.23" lengthAdjust="spacingAndGlyphs">E</tspan><tspan x="604.44" textLength="5.23" lengthAdjust="spacingAndGlyphs">T</tspan></text>
<text y="287.1" font-size="10.2" xml:space="preserve"><tspan x="616.10" textLength="4.56" lengthAdjust="spacingAndGlyphs">3</tspan><tspan x="621.92">/</tspan><tspan x="626.02" textLength="4.56" lengthAdjust="spacingAndGlyphs">4</tspan><tspan x="631.84">i</tspan><tspan x="635.94" textLength="4.56" lengthAdjust="spacingAndGlyphs">n</tspan></text>
<path class="d" d="M707.5 46L707.5 244"/>
<path class="d" d="M860.5 46L860.5 244"/>
<path class="d" d="M707.5 47.4L860.5 47.4"/>
<path d="M707.5 47.4L712.0 46.5L712.0 48.3Z" fill="#1e2328"/>
<path d="M860.5 47.4L856.0 46.5L856.0 48.3Z" fill="#1e2328"/>
<text y="44.6" font-size="11.3" xml:space="preserve"><tspan x="749.50" textLength="4.63" lengthAdjust="spacingAndGlyphs">3</tspan><tspan x="754.54" textLength="4.63" lengthAdjust="spacingAndGlyphs">1</tspan><tspan x="759.57" textLength="4.63" lengthAdjust="spacingAndGlyphs">8</tspan><tspan x="764.61" textLength="4.63" lengthAdjust="spacingAndGlyphs">m</tspan><tspan x="769.64" textLength="4.63" lengthAdjust="spacingAndGlyphs">m</tspan><tspan x="774.48"> </tspan><tspan x="780.15">[</tspan><tspan x="784.75" textLength="4.63" lengthAdjust="spacingAndGlyphs">1</tspan><tspan x="789.79" textLength="4.63" lengthAdjust="spacingAndGlyphs">2</tspan><tspan x="795.73">.</tspan><tspan x="799.86" textLength="4.63" lengthAdjust="spacingAndGlyphs">5</tspan><tspan x="805.64">i</tspan><tspan x="809.93" textLength="4.63" lengthAdjust="spacingAndGlyphs">n</tspan><tspan x="815.40">]</tspan></text>
<circle cx="784.2" cy="244" r="76" class="l"/>
<circle cx="784.2" cy="244" r="72" class="m"/>
<circle cx="784.2" cy="244" r="67.7" class="m"/>
<circle cx="784.2" cy="244" r="64.4" class="m"/>
<circle cx="784.2" cy="244" r="61" class="m"/>
<circle cx="784.2" cy="244" r="57.4" class="l"/>
<path class="k" d="M797.6 232.7L826.4 205.1M795.5 230.6L823.1 201.8" />
<path class="m" d="M826.1 204.7L833.9 196.8L831.4 194.3L823.5 202.1Z" style="fill:#fff"/>
<path class="k" d="M800.1 236.5L835.1 217.3M798.6 234.0L832.7 213.3" />
<path class="m" d="M834.8 216.9L844.4 211.3L842.6 208.2L833.0 213.7Z" style="fill:#fff"/>
<path class="k" d="M801.5 240.9L840.3 231.4M800.7 238.1L839.0 226.9" />
<path class="m" d="M840.1 230.9L850.8 228.0L849.9 224.5L839.2 227.4Z" style="fill:#fff"/>
<path class="k" d="M801.7 245.4L841.6 246.3M801.7 242.6L841.6 241.7" />
<path class="m" d="M841.6 245.8L852.7 245.8L852.7 242.2L841.6 242.2Z" style="fill:#fff"/>
<path class="k" d="M800.7 249.9L839.0 261.1M801.5 247.1L840.3 256.6" />
<path class="m" d="M839.2 260.6L849.9 263.5L850.8 260.0L840.1 257.1Z" style="fill:#fff"/>
<path class="k" d="M798.6 254.0L832.7 274.7M800.1 251.5L835.1 270.7" />
<path class="m" d="M833.0 274.3L842.6 279.8L844.4 276.7L834.8 271.1Z" style="fill:#fff"/>
<path class="k" d="M795.5 257.4L823.1 286.2M797.6 255.3L826.4 282.9" />
<path class="m" d="M823.5 285.9L831.4 293.7L833.9 291.2L826.1 283.3Z" style="fill:#fff"/>
<path class="k" d="M770.8 255.3L742.0 282.9M772.9 257.4L745.3 286.2" />
<path class="m" d="M742.3 283.3L734.5 291.2L737.0 293.7L744.9 285.9Z" style="fill:#fff"/>
<path class="k" d="M768.3 251.5L733.3 270.7M769.8 254.0L735.7 274.7" />
<path class="m" d="M733.6 271.1L724.0 276.7L725.8 279.8L735.4 274.3Z" style="fill:#fff"/>
<path class="k" d="M766.9 247.1L728.1 256.6M767.7 249.9L729.4 261.1" />
<path class="m" d="M728.3 257.1L717.6 260.0L718.5 263.5L729.2 260.6Z" style="fill:#fff"/>
<path class="k" d="M766.7 242.6L726.8 241.7M766.7 245.4L726.8 246.3" />
<path class="m" d="M726.8 242.2L715.7 242.2L715.7 245.8L726.8 245.8Z" style="fill:#fff"/>
<path class="k" d="M767.7 238.1L729.4 226.9M766.9 240.9L728.1 231.4" />
<path class="m" d="M729.2 227.4L718.5 224.5L717.6 228.0L728.3 230.9Z" style="fill:#fff"/>
<path class="k" d="M769.8 234.0L735.7 213.3M768.3 236.5L733.3 217.3" />
<path class="m" d="M735.4 213.7L725.8 208.2L724.0 211.3L733.6 216.9Z" style="fill:#fff"/>
<path class="k" d="M772.9 230.6L745.3 201.8M770.8 232.7L742.0 205.1" />
<path class="m" d="M744.9 202.1L737.0 194.3L734.5 196.8L742.3 204.7Z" style="fill:#fff"/>
<path class="m" d="M762.5 180Q764 205 775 231L793.4 231Q804.5 205 806 180L796 174L784.2 171.4L772.4 174Z" style="fill:#fff"/>
<path class="m" d="M766 293.5Q768 268 779 259H789.5Q800.5 268 804 293.5V297.3L808 305V312H760.5V305L766 297.3Z" style="fill:#fff"/>
<rect x="759" y="312.5" width="50.5" height="8.3" fill="#fff"/>
<path class="m" d="M766 293.5H804M766 297.3H804" />
<circle cx="784.2" cy="244" r="17.2" class="k" style="fill:#fff"/>
<circle cx="784.2" cy="244" r="13.8" class="l"/>
<rect x="749.3" y="132.6" width="68.8" height="42.4" fill="#fff"/>
<path class="m" d="M772.4 174L784.2 171.4L796 174" />
<path class="l" d="M749.3 175V132.6H757M818.1 175V132.6H811" />
<path class="k" d="M749.3 158.7H818.1" style="stroke-width:1.5"/>
<path class="l" d="M749.3 170.1H818.1" />
<path class="m" d="M749.3 175H761M818.1 175H807" />
<path class="m" d="M756.2 133V175M812.4 133V175" />
<path class="l" d="M767.7 139V164Q767.7 165.6 769.3 165.6H799.3Q800.9 165.6 800.9 164V139" />
<path class="t" d="M769 164.2H799.6" />
<circle cx="784.2" cy="168" r="1.1" class="t"/>
<path class="l" d="M784.2 196L781.6 199.7H783.1V206.5H785.3V199.7H786.8Z" />
<circle cx="766.1" cy="176.7" r="5.6" class="l" style="fill:#fff"/>
<circle cx="766.1" cy="176.7" r="3.2" class="k" style="stroke-width:1.5"/>
<circle cx="766.1" cy="176.7" r="1.2" class="t"/>
<circle cx="802.7" cy="176.7" r="5.6" class="l" style="fill:#fff"/>
<circle cx="802.7" cy="176.7" r="3.2" class="k" style="stroke-width:1.5"/>
<circle cx="802.7" cy="176.7" r="1.2" class="t"/>
<circle cx="734.7" cy="194.3" r="5.6" class="l" style="fill:#fff"/>
<circle cx="734.7" cy="194.3" r="3.2" class="k" style="stroke-width:1.5"/>
<circle cx="734.7" cy="194.3" r="1.2" class="t"/>
<circle cx="833.9" cy="194.3" r="5.6" class="l" style="fill:#fff"/>
<circle cx="833.9" cy="194.3" r="3.2" class="k" style="stroke-width:1.5"/>
<circle cx="833.9" cy="194.3" r="1.2" class="t"/>
<circle cx="715.8" cy="225.3" r="5.6" class="l" style="fill:#fff"/>
<circle cx="715.8" cy="225.3" r="3.2" class="k" style="stroke-width:1.5"/>
<circle cx="715.8" cy="225.3" r="1.2" class="t"/>
<circle cx="851.8" cy="225.3" r="5.6" class="l" style="fill:#fff"/>
<circle cx="851.8" cy="225.3" r="3.2" class="k" style="stroke-width:1.5"/>
<circle cx="851.8" cy="225.3" r="1.2" class="t"/>
<circle cx="716" cy="262.2" r="5.6" class="l" style="fill:#fff"/>
<circle cx="716" cy="262.2" r="3.2" class="k" style="stroke-width:1.5"/>
<circle cx="716" cy="262.2" r="1.2" class="t"/>
<circle cx="852" cy="262.2" r="5.6" class="l" style="fill:#fff"/>
<circle cx="852" cy="262.2" r="3.2" class="k" style="stroke-width:1.5"/>
<circle cx="852" cy="262.2" r="1.2" class="t"/>
<circle cx="733.6" cy="292.7" r="5.6" class="l" style="fill:#fff"/>
<circle cx="733.6" cy="292.7" r="3.2" class="k" style="stroke-width:1.5"/>
<circle cx="733.6" cy="292.7" r="1.2" class="t"/>
<circle cx="832.8" cy="292.7" r="5.6" class="l" style="fill:#fff"/>
<circle cx="832.8" cy="292.7" r="3.2" class="k" style="stroke-width:1.5"/>
<circle cx="832.8" cy="292.7" r="1.2" class="t"/>
<circle cx="760.6" cy="310.6" r="5.6" class="l" style="fill:#fff"/>
<circle cx="760.6" cy="310.6" r="3.2" class="k" style="stroke-width:1.5"/>
<circle cx="760.6" cy="310.6" r="1.2" class="t"/>
<circle cx="807" cy="310.6" r="5.6" class="l" style="fill:#fff"/>
<circle cx="807" cy="310.6" r="3.2" class="k" style="stroke-width:1.5"/>
<circle cx="807" cy="310.6" r="1.2" class="t"/>
<path class="m" d="M821.5 314.5L846 291.5" />
<path class="m" d="M821.3 313.2L826.8 308.2L828.4 310L822.9 315Z" style="fill:#5a6066"/>
<path class="l" d="M750.2 398V324Q750.2 320.8 753.5 320.8H815Q818.4 320.8 818.4 324V398" />
<path class="t" d="M755 320.8V330M813.5 320.8V330M760.5 312V320.8M808 312V320.8" />
<path class="m" d="M740 398L750.2 377M828 398L818.4 377M743 398L750.2 384M825 398L818.4 384M740 398H828" />
<circle cx="784.2" cy="104.3" r="38.4" class="l" style="fill:#fff"/>
<circle cx="763.1" cy="83.3" r="5.1" class="l"/>
<circle cx="763.1" cy="125.3" r="5.1" class="l"/>
<circle cx="805.3000000000001" cy="83.3" r="5.1" class="l"/>
<circle cx="805.3000000000001" cy="125.3" r="5.1" class="l"/>
<circle cx="784.2" cy="104.3" r="17.4" fill="none" stroke="#1c1c1e" stroke-width="8.6"/>
<circle cx="784.2" cy="104.3" r="11.2" fill="none" stroke="#858b91" stroke-width="1.5"/>
<circle cx="784.2" cy="355.3" r="38.4" class="l" style="fill:#fff"/>
<circle cx="763.1" cy="334.3" r="5.1" class="l"/>
<circle cx="763.1" cy="376.3" r="5.1" class="l"/>
<circle cx="805.3000000000001" cy="334.3" r="5.1" class="l"/>
<circle cx="805.3000000000001" cy="376.3" r="5.1" class="l"/>
<circle cx="784.2" cy="355.3" r="17.4" fill="none" stroke="#1c1c1e" stroke-width="8.6"/>
<circle cx="784.2" cy="355.3" r="11.2" fill="none" stroke="#858b91" stroke-width="1.5"/>
<path class="t" d="M763.1 120.5V130M758.6 125.3H767.6" />
<path class="t" d="M805.3 120.5V130M800.8 125.3H809.8" />
<path class="t" d="M758.6 338H767.6" />
<path class="t" d="M800.8 338H809.8" />
<path class="d" d="M785.5 102.8L693.4 145.2H588.4" style="stroke-width:1.3"/>
<text y="142.2" font-size="12" xml:space="preserve"><tspan x="589.73" textLength="5.26" lengthAdjust="spacingAndGlyphs">L</tspan><tspan x="596.08">I</tspan><tspan x="601.16" textLength="5.26" lengthAdjust="spacingAndGlyphs">Q</tspan><tspan x="606.88" textLength="5.26" lengthAdjust="spacingAndGlyphs">U</tspan><tspan x="613.23">I</tspan><tspan x="618.32" textLength="5.26" lengthAdjust="spacingAndGlyphs">D</tspan><tspan x="623.81"> </tspan><tspan x="629.75" textLength="5.26" lengthAdjust="spacingAndGlyphs">O</tspan><tspan x="635.47" textLength="5.26" lengthAdjust="spacingAndGlyphs">U</tspan><tspan x="641.19" textLength="5.26" lengthAdjust="spacingAndGlyphs">T</tspan><tspan x="646.91" textLength="5.26" lengthAdjust="spacingAndGlyphs">L</tspan><tspan x="652.62" textLength="5.26" lengthAdjust="spacingAndGlyphs">E</tspan><tspan x="658.34" textLength="5.26" lengthAdjust="spacingAndGlyphs">T</tspan><tspan x="663.83"> </tspan><tspan x="669.78" textLength="5.26" lengthAdjust="spacingAndGlyphs">2</tspan><tspan x="676.46">i</tspan><tspan x="681.21" textLength="5.26" lengthAdjust="spacingAndGlyphs">n</tspan></text>
<path class="d" d="M781.5 351L704 398.7H586.8" style="stroke-width:1.3"/>
<text y="393.4" font-size="12" xml:space="preserve"><tspan x="589.33" textLength="5.18" lengthAdjust="spacingAndGlyphs">L</tspan><tspan x="595.55">I</tspan><tspan x="600.59" textLength="5.18" lengthAdjust="spacingAndGlyphs">Q</tspan><tspan x="606.23" textLength="5.18" lengthAdjust="spacingAndGlyphs">U</tspan><tspan x="612.45">I</tspan><tspan x="617.49" textLength="5.18" lengthAdjust="spacingAndGlyphs">D</tspan><tspan x="622.90"> </tspan><tspan x="629.35">I</tspan><tspan x="634.39" textLength="5.18" lengthAdjust="spacingAndGlyphs">N</tspan><tspan x="640.03" textLength="5.18" lengthAdjust="spacingAndGlyphs">L</tspan><tspan x="645.66" textLength="5.18" lengthAdjust="spacingAndGlyphs">E</tspan><tspan x="651.29" textLength="5.18" lengthAdjust="spacingAndGlyphs">T</tspan></text>
<text y="393.4" font-size="9.6" xml:space="preserve"><tspan x="663.78" textLength="4.20" lengthAdjust="spacingAndGlyphs">2</tspan><tspan x="669.12">i</tspan><tspan x="672.92" textLength="4.20" lengthAdjust="spacingAndGlyphs">n</tspan></text>
<path class="d" d="M746.6 398L746.6 422"/>
<path class="d" d="M821.7 398L821.7 422"/>
<path class="d" d="M746.6 420.6L821.7 420.6"/>
<path d="M746.6 420.6L751.1 419.70000000000005L751.1 421.5Z" fill="#1e2328"/>
<path d="M821.7 420.6L817.2 419.70000000000005L817.2 421.5Z" fill="#1e2328"/>
<text y="417.2" font-size="11.3" xml:space="preserve"><tspan x="752.20" textLength="4.55" lengthAdjust="spacingAndGlyphs">1</tspan><tspan x="757.14" textLength="4.55" lengthAdjust="spacingAndGlyphs">5</tspan><tspan x="762.09" textLength="4.55" lengthAdjust="spacingAndGlyphs">5</tspan><tspan x="767.04" textLength="4.55" lengthAdjust="spacingAndGlyphs">m</tspan><tspan x="771.98" textLength="4.55" lengthAdjust="spacingAndGlyphs">m</tspan><tspan x="776.73"> </tspan><tspan x="782.27">[</tspan><tspan x="786.82" textLength="4.55" lengthAdjust="spacingAndGlyphs">6</tspan><tspan x="792.63">.</tspan><tspan x="796.71" textLength="4.55" lengthAdjust="spacingAndGlyphs">1</tspan><tspan x="802.36">i</tspan><tspan x="806.61" textLength="4.55" lengthAdjust="spacingAndGlyphs">n</tspan><tspan x="811.95">]</tspan></text>
<path class="d" d="M821.7 398.6L839.6 421.1H847.2" />
<text y="423.7" font-size="12.4" xml:space="preserve"><tspan x="849.46" textLength="5.99" lengthAdjust="spacingAndGlyphs">4</tspan><tspan x="855.97" textLength="5.99" lengthAdjust="spacingAndGlyphs">−</tspan><tspan x="862.49" textLength="5.99" lengthAdjust="spacingAndGlyphs">Φ</tspan><tspan x="869.00" textLength="5.99" lengthAdjust="spacingAndGlyphs">1</tspan><tspan x="875.52" textLength="5.99" lengthAdjust="spacingAndGlyphs">4</tspan><tspan x="882.03" textLength="5.99" lengthAdjust="spacingAndGlyphs">m</tspan><tspan x="888.55" textLength="5.99" lengthAdjust="spacingAndGlyphs">m</tspan></text>
<circle cx="906.5" cy="243" r="1" fill="#111"/>
</svg></body></html>
